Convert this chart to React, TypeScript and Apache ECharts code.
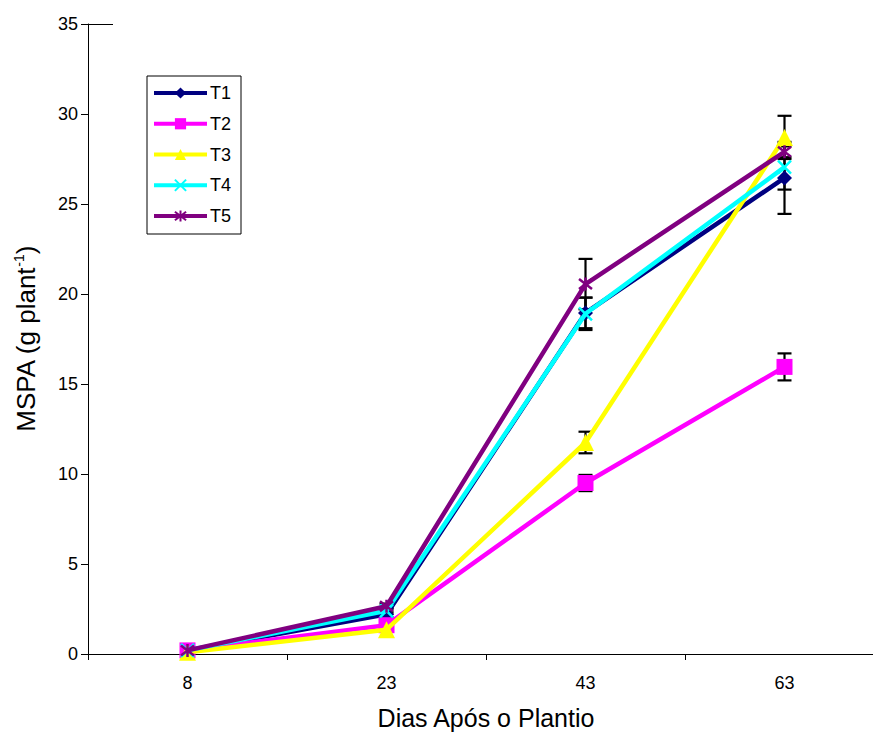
import React, { useEffect, useRef } from "react";
import * as echarts from "echarts";

// Dias após o plantio
const days = ["8", "23", "43", "63"];

// Massa seca da parte aérea (g planta⁻¹) por tratamento
const t1 = [0.2, 2.2, 18.95, 26.45];
const t2 = [0.2, 1.6, 9.5, 15.95];
const t3 = [0.1, 1.35, 11.75, 28.7];
const t4 = [0.2, 2.4, 18.9, 27.05];
const t5 = [0.2, 2.65, 20.55, 27.9];

// Desvio (barras de erro)
const t1Err = [0.05, 0.15, 0.85, 2.0];
const t2Err = [0.05, 0.1, 0.45, 0.75];
const t3Err = [0.02, 0.1, 0.6, 1.2];
const t4Err = [0.05, 0.15, 0.9, 1.25];
const t5Err = [0.05, 0.15, 1.4, 0.3];

const seriesNames = ["T1", "T2", "T3", "T4", "T5"];
const seriesValues = [t1, t2, t3, t4, t5];
const seriesErrors = [t1Err, t2Err, t3Err, t4Err, t5Err];
const seriesColors = ["#000080", "#FF00FF", "#FFFF00", "#00FFFF", "#800080"];

const yTicks = { min: 0, max: 35, interval: 5 };

const FONT = "'Liberation Sans', Arial, Helvetica, sans-serif";

const crossPath = "path://M0,0L10,10M10,0L0,10";
const starPath = "path://M0,0L10,10M10,0L0,10M5,-1.5L5,11.5";

const symbols = ["diamond", "rect", "triangle", crossPath, starPath];
const symbolSizes = [15, 16, 17, 13, 13];

export default function App() {
  const ref = useRef<HTMLDivElement>(null);

  useEffect(() => {
    document.body.style.margin = "0";
    document.body.style.overflow = "hidden";
    if (!ref.current) return;
    const chart = echarts.init(ref.current, undefined, { renderer: "svg" });

    const errorData: number[][] = [];
    seriesValues.forEach((vals, s) => {
      vals.forEach((v, i) => {
        const e = seriesErrors[s][i];
        errorData.push([i, v - e, v + e]);
      });
    });

    const lineSeries = seriesNames.map((name, s) => {
      const isStroke = s >= 3;
      return {
        name,
        type: "line",
        data: seriesValues[s],
        symbol: symbols[s],
        symbolSize: symbolSizes[s],
        showSymbol: true,
        z: 3 + s,
        lineStyle: { color: seriesColors[s], width: 4.5 },
        itemStyle: {
          color: seriesColors[s],
          borderColor: seriesColors[s],
          borderWidth: isStroke ? 2.5 : 0,
          opacity: 1,
        },
        emphasis: { disabled: true },
      };
    });

    chart.setOption({
      animation: false,
      textStyle: { fontFamily: FONT, color: "#000" },
      grid: {
        left: 88,
        top: 24,
        width: 796,
        height: 630,
        containLabel: false,
        outerBoundsMode: "none",
      },
      legend: {
        orient: "vertical",
        left: 147,
        top: 76,
        data: seriesNames,
        itemWidth: 53,
        itemHeight: 14,
        itemGap: 16.75 - 4,
        padding: [8, 10, 9, 5],
        borderColor: "#000",
        borderWidth: 1,
        backgroundColor: "#fff",
        lineStyle: { width: 4 },
        textStyle: { fontSize: 18, color: "#000", fontFamily: FONT, padding: [0, 0, 0, -2] },
        selectedMode: false,
      },
      xAxis: {
        type: "category",
        data: days,
        boundaryGap: true,
        name: "Dias Após o Plantio",
        nameLocation: "middle",
        nameGap: 51,
        nameTextStyle: { fontSize: 25, color: "#000", fontFamily: FONT },
        axisLine: { lineStyle: { color: "#000", width: 1 } },
        axisTick: { show: true, alignWithLabel: false, length: 6, inside: false, lineStyle: { color: "#000" } },
        axisLabel: { fontSize: 18, color: "#000", margin: 20, fontFamily: FONT },
        splitLine: { show: false },
      },
      yAxis: {
        type: "value",
        min: yTicks.min,
        max: yTicks.max,
        interval: yTicks.interval,
        name: "{a|MSPA (g plant}{b|-1}{a|)}",
        nameLocation: "middle",
        nameRotate: 90,
        nameGap: 48,
        nameTextStyle: {
          color: "#000",
          fontFamily: FONT,
          rich: {
            a: { fontSize: 26, color: "#000", fontFamily: FONT, lineHeight: 28 },
            b: { fontSize: 14, color: "#000", fontFamily: FONT, verticalAlign: "top", lineHeight: 28, padding: [0, 0, 10, 0] },
          },
        },
        axisLine: { show: true, lineStyle: { color: "#000", width: 1 } },
        axisTick: { show: true, length: 7, inside: false, lineStyle: { color: "#000" } },
        axisLabel: { fontSize: 18, color: "#000", margin: 10, fontFamily: FONT },
        splitLine: { show: false },
      },
      graphic: [
        {
          type: "line",
          shape: { x1: 88, y1: 24.5, x2: 113, y2: 24.5 },
          style: { stroke: "#000", lineWidth: 1 },
          silent: true,
        },
      ],
      series: [
        {
          name: "erro",
          type: "custom",
          z: 1,
          silent: true,
          data: errorData,
          encode: { x: 0, y: [1, 2] },
          renderItem: (params: any, api: any) => {
            const x = api.value(0);
            const lo = api.coord([x, api.value(1)]);
            const hi = api.coord([x, api.value(2)]);
            const half = 7;
            const style = { stroke: "#000", lineWidth: 2.2 };
            return {
              type: "group",
              children: [
                { type: "line", shape: { x1: lo[0], y1: lo[1], x2: hi[0], y2: hi[1] }, style },
                { type: "line", shape: { x1: hi[0] - half, y1: hi[1], x2: hi[0] + half, y2: hi[1] }, style },
                { type: "line", shape: { x1: lo[0] - half, y1: lo[1], x2: lo[0] + half, y2: lo[1] }, style },
              ],
            };
          },
        },
        ...lineSeries,
      ],
    });

    return () => chart.dispose();
  }, []);

  return <div ref={ref} style={{ width: 900, height: 732 }} />;
}
